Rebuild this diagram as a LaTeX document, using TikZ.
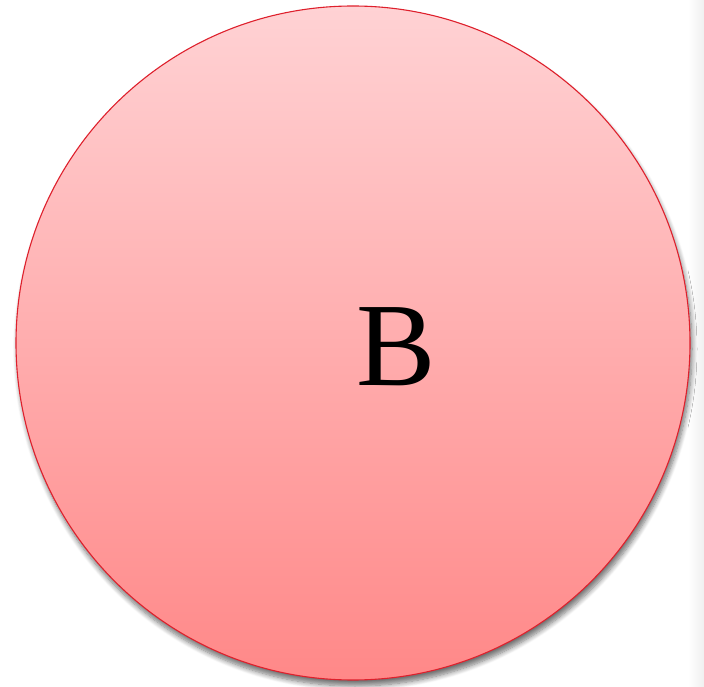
\documentclass[tikz,border=0pt]{standalone}
\usepackage{fontspec}
\setmainfont{Liberation Serif}
\usepackage{tikz}
\usetikzlibrary{shapes.geometric, shadows.blur, positioning}

\begin{document}
\begin{tikzpicture}[x=1pt, y=1pt,
    setcircle/.style={circle, draw={rgb,255:red,222;green,32;blue,44}, line width=1.1pt, minimum size=674pt, inner sep=0pt, top color={rgb,255:red,255;green,210;blue,212}, bottom color={rgb,255:red,255;green,136;blue,136}, blur shadow={shadow xshift=2pt, shadow yshift=-6pt, shadow blur steps=8, shadow blur radius=5pt, shadow opacity=55}},
    setlabel/.style={font=\fontsize{119}{119}\selectfont, inner sep=0pt}
]
    % Frame
    \useasboundingbox (0,0) rectangle (704,686);
    \shade[left color=white, right color=black!6] (688,0) rectangle (704,686);

    % Set
    \node[setcircle] (setB) at (353,343) {};

    % Label
    \node[setlabel] (labelB) at (396,339) {B};
\end{tikzpicture}
\end{document}
